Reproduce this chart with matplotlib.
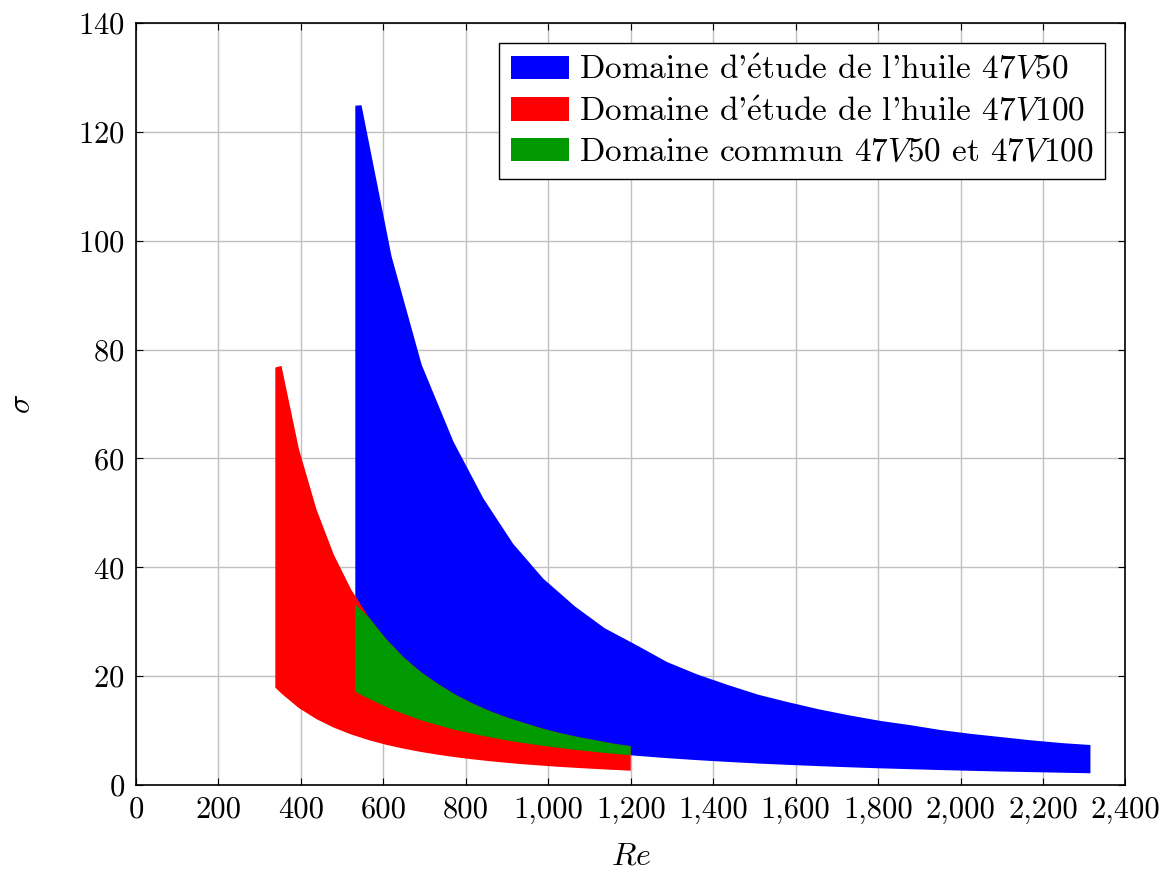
import matplotlib
matplotlib.use("Agg")
import matplotlib.pyplot as plt
from matplotlib.patches import Patch
from matplotlib.ticker import FuncFormatter

plt.rcParams['font.family'] = ['cmr10', 'DejaVu Serif']
plt.rcParams['mathtext.fontset'] = 'cm'
plt.rcParams['axes.formatter.use_mathtext'] = True

# huile 47V50 (bleu)
re_50 = [532, 547, 620, 693, 770, 843, 915, 988, 1065, 1137, 1214, 1288, 1362,
         1435, 1509, 1583, 1657, 1730, 1804, 1878, 1952, 2025, 2099, 2173, 2247, 2315]
sig_50_haut = [124.8, 124.9, 97.1, 77.2, 63.1, 52.6, 44.3, 37.9, 32.8, 28.8, 25.7,
               22.6, 20.3, 18.4, 16.6, 15.2, 13.9, 12.8, 11.8, 11.0, 10.1, 9.4,
               8.8, 8.2, 7.7, 7.35]
sig_50_bas = [17.2, 16.5, 13.9, 11.85, 10.2, 9.0, 8.0, 7.2, 6.46, 5.9, 5.37, 4.94,
              4.57, 4.25, 3.95, 3.7, 3.47, 3.26, 3.07, 2.91, 2.75, 2.61, 2.48,
              2.37, 2.26, 2.16]

# huile 47V100 (rouge)
re_100 = [338, 353, 395, 438, 480, 522, 565, 607, 650, 692, 734, 777, 819, 861,
          904, 946, 989, 1031, 1073, 1116, 1158, 1200]
sig_100_haut = [76.7, 77.0, 61.8, 50.6, 42.3, 35.9, 30.8, 26.8, 23.4, 20.7, 18.5,
                16.5, 14.9, 13.5, 12.3, 11.3, 10.3, 9.5, 8.8, 8.2, 7.6, 7.1]
sig_100_bas = [17.9, 16.8, 14.15, 12.1, 10.54, 9.29, 8.24, 7.39, 6.67, 6.07, 5.55,
               5.09, 4.7, 4.36, 4.05, 3.78, 3.54, 3.32, 3.13, 2.95, 2.79, 2.63]

# domaine commun
re_com_haut = [532, 565, 607, 650, 692, 734, 777, 819, 861, 904, 946, 989, 1031,
               1073, 1116, 1158, 1200]
sig_com_haut = [33.2, 30.8, 26.8, 23.4, 20.7, 18.5, 16.5, 14.9, 13.5, 12.3, 11.3,
                10.3, 9.5, 8.8, 8.2, 7.6, 7.15]
re_com_bas = [532, 547, 620, 693, 770, 843, 915, 988, 1065, 1137, 1200]
sig_com_bas = [17.2, 16.5, 13.9, 11.85, 10.2, 9.0, 8.0, 7.2, 6.46, 5.9, 5.47]

labels = [r"Domaine d'$\mathrm{\acute{e}}$tude de l'huile $47V50$",
          r"Domaine d'$\mathrm{\acute{e}}$tude de l'huile $47V100$",
          r"Domaine commun $47V50$ et $47V100$"]
colors = ["#0000ff", "#ff0000", "#009900"]

fig = plt.figure(figsize=(11.68, 8.71), dpi=100)
ax = fig.add_axes([0.1164, 0.0987, 0.8472, 0.8749])

def zone(x_h, y_h, x_b, y_b, c):
    xs = list(x_h) + list(reversed(x_b))
    ys = list(y_h) + list(reversed(y_b))
    ax.fill(xs, ys, color=c, lw=0, zorder=2)

zone(re_50, sig_50_haut, re_50, sig_50_bas, colors[0])
zone(re_100, sig_100_haut, re_100, sig_100_bas, colors[1])
zone(re_com_haut, sig_com_haut, re_com_bas, sig_com_bas, colors[2])

ax.set_xlim(0, 2400)
ax.set_ylim(0, 140)
ax.set_xticks(range(0, 2401, 200))
ax.set_yticks(range(0, 141, 20))
ax.xaxis.set_major_formatter(FuncFormatter(lambda v, p: f"{v:,.0f}"))
ax.grid(True, color="#c0c0c0", lw=1)
ax.set_axisbelow(True)
ax.tick_params(direction="in", top=True, right=True, labelsize=22, length=5, pad=8)
for s in ax.spines.values():
    s.set_linewidth(1.2)

ax.set_xlabel("$Re$", fontsize=23, labelpad=14)
ax.set_ylabel("$\\sigma$", fontsize=23, labelpad=30)

handles = [Patch(color=c, lw=0) for c in colors]
leg = ax.legend(handles, labels, loc="upper right", fontsize=24, fancybox=False,
                edgecolor="black", framealpha=1, borderaxespad=0.6,
                handlelength=1.75, handleheight=0.72, handletextpad=0.3,
                labelspacing=0.33, borderpad=0.35)
leg.get_frame().set_linewidth(1.0)

fig.savefig("out.png", dpi=100)
